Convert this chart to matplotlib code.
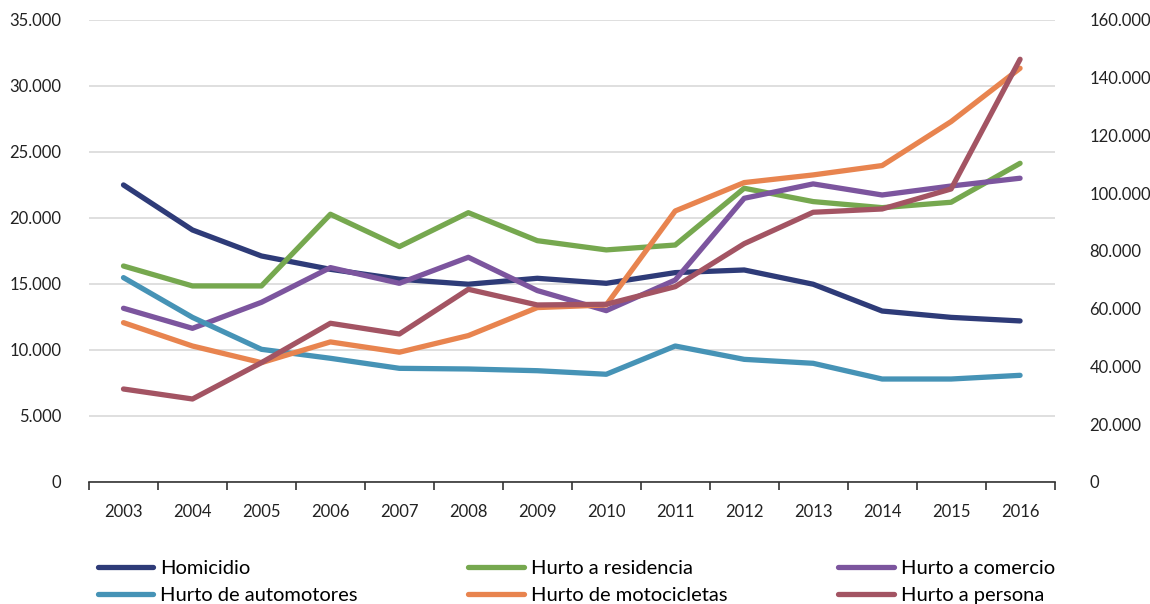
import matplotlib.pyplot as plt
from matplotlib.ticker import FuncFormatter, FixedLocator

plt.rcParams['font.family'] = ['Lato', 'DejaVu Sans']

years = ['2003', '2004', '2005', '2006', '2007', '2008', '2009',
         '2010', '2011', '2012', '2013', '2014', '2015', '2016']

# left axis series
homicidio = [22500, 19090, 17120, 16110, 15360, 14980, 15430,
             15050, 15860, 16060, 14980, 12950, 12470, 12200]
hurto_residencia = [16360, 14850, 14850, 20280, 17830, 20400, 18280,
                    17580, 17950, 22250, 21240, 20780, 21190, 24140]
hurto_comercio = [13160, 11640, 13610, 16240, 15050, 17020, 14500,
                  12980, 15300, 21490, 22580, 21740, 22420, 23010]
hurto_automotores = [15480, 12470, 10050, 9370, 8610, 8560, 8430,
                     8160, 10300, 9290, 8990, 7800, 7800, 8080]
hurto_motocicletas = [12070, 10300, 9040, 10610, 9830, 11090, 13210,
                      13410, 20530, 22680, 23260, 23970, 27300, 31340]
# right axis series
hurto_persona = [32200, 28740, 41320, 54960, 51250, 66730, 61300,
                 61540, 67640, 82520, 93400, 94540, 101470, 146380]

colors = {
    'Homicidio': '#2e3b78',
    'Hurto a residencia': '#76a84f',
    'Hurto a comercio': '#7c559e',
    'Hurto de automotores': '#4693b6',
    'Hurto de motocicletas': '#e8844f',
    'Hurto a persona': '#a35463',
}


def miles(v, pos):
    return '{:,.0f}'.format(v).replace(',', '.')


fig = plt.figure(figsize=(11.5, 6.04), dpi=100)
ax = fig.add_axes([0.0774, 0.202, 0.8396, 0.765])
ax2 = ax.twinx()

x = list(range(len(years)))
lw = 3.8
kw = dict(linewidth=lw, solid_capstyle='round', solid_joinstyle='round')

series_left = [
    ('Homicidio', homicidio),
    ('Hurto a residencia', hurto_residencia),
    ('Hurto a comercio', hurto_comercio),
    ('Hurto de automotores', hurto_automotores),
    ('Hurto de motocicletas', hurto_motocicletas),
]
lines = {}
for name, vals in series_left:
    lines[name], = ax.plot(x, vals, color=colors[name], label=name, **kw)
lines['Hurto a persona'], = ax2.plot(x, hurto_persona, color=colors['Hurto a persona'],
                                     label='Hurto a persona', **kw)

ax.set_xlim(-0.5, len(years) - 0.5)
ax.set_ylim(0, 35000)
ax.set_yticks(range(0, 35001, 5000))
ax2.set_ylim(0, 160000)
ax2.set_yticks(range(0, 160001, 20000))
ax.yaxis.set_major_formatter(FuncFormatter(miles))
ax2.yaxis.set_major_formatter(FuncFormatter(miles))

ax.set_xticks(x)
ax.set_xticklabels(years)
ax.xaxis.set_minor_locator(FixedLocator([i - 0.5 for i in range(len(years) + 1)]))
ax.tick_params(axis='x', which='major', length=0, pad=16, labelsize=12, colors='#222222')
ax.tick_params(axis='x', which='minor', length=6, width=1.2, color='#333333', direction='out')
ax.tick_params(axis='y', length=0, pad=20, labelsize=12, colors='#222222')
ax2.tick_params(axis='y', length=0, pad=25, labelsize=12, colors='#222222')

ax.grid(axis='y', color='#d9d9d9', linewidth=1.2)
ax.set_axisbelow(True)
for a in (ax, ax2):
    for side in ('top', 'left', 'right', 'bottom'):
        a.spines[side].set_visible(False)
ax.spines['bottom'].set_visible(True)
ax.spines['bottom'].set_color('#333333')
ax.spines['bottom'].set_linewidth(1.2)

order = ['Homicidio', 'Hurto de automotores', 'Hurto a residencia',
         'Hurto de motocicletas', 'Hurto a comercio', 'Hurto a persona']
fig.legend([lines[n] for n in order], order, ncol=3, loc='upper left',
           bbox_to_anchor=(0.078, 0.086), frameon=False, fontsize=14.5,
           handlelength=2.75, handletextpad=0.35, columnspacing=5.5,
           labelspacing=0.5, borderaxespad=0)

fig.savefig('out.png', dpi=100)
